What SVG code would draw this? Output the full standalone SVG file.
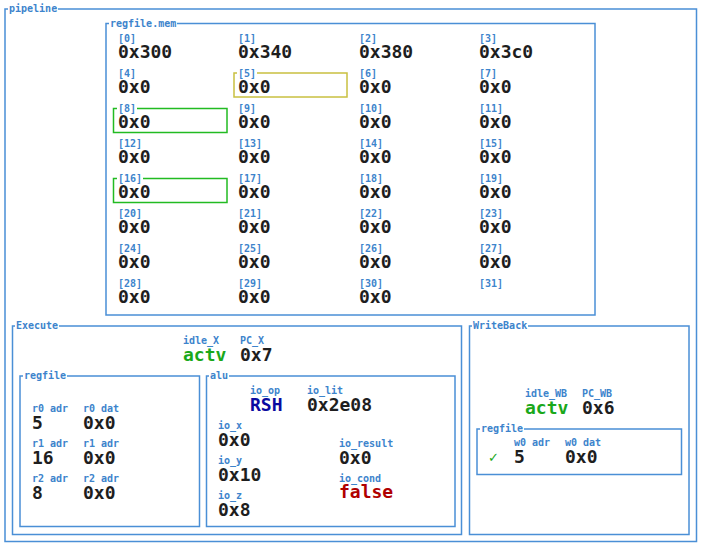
<svg xmlns="http://www.w3.org/2000/svg" width="702" height="547" viewBox="0 0 702 547">
<style>
.box{fill:none;stroke:#4a8fd6;stroke-width:1.5}
.bl{font-family:"DejaVu Sans Mono",monospace;font-size:10px;font-weight:bold;fill:#3d84cc}
.lb{fill:#fff}
.k{font-family:"DejaVu Sans Mono",monospace;font-size:10px;font-weight:bold;fill:#3d84cc}
.v{font-family:"DejaVu Sans Mono",monospace;font-size:18px;font-weight:bold;fill:#1e1e1e}
.g{fill:#1aa81a}
.b{fill:#0a0aa0}
.r{fill:#b00000}
</style>
<rect width="702" height="547" fill="#fff"/>
<g id="pipeline">
<rect class="box" x="5" y="9" width="691.5" height="532.5"/>
<rect class="lb" x="8" y="4" width="50" height="10"/>
<text class="bl" x="9" y="12">pipeline</text>
</g>
<g id="regfile_mem">
<rect class="box" x="106" y="23.5" width="489" height="291.5"/>
<rect class="lb" x="109" y="18" width="68" height="10"/>
<text class="bl" x="110" y="27">regfile.mem</text>
<rect x="234" y="73" width="113" height="24" fill="none" stroke="#c9c040" stroke-width="1.5"/>
<rect x="113.5" y="108.5" width="113.5" height="24" fill="none" stroke="#22bb22" stroke-width="1.5"/>
<rect x="113.5" y="178.5" width="113.5" height="24" fill="none" stroke="#22bb22" stroke-width="1.5"/>
<rect class="lb" x="237" y="68" width="20" height="10"/>
<rect class="lb" x="117" y="103" width="20" height="10"/>
<rect class="lb" x="117" y="173" width="26" height="10"/>
<g class="k">
<text x="118" y="42">[0]</text><text x="238" y="42">[1]</text><text x="359" y="42">[2]</text><text x="479" y="42">[3]</text>
<text x="118" y="77">[4]</text><text x="238" y="77">[5]</text><text x="359" y="77">[6]</text><text x="479" y="77">[7]</text>
<text x="118" y="112">[8]</text><text x="238" y="112">[9]</text><text x="359" y="112">[10]</text><text x="479" y="112">[11]</text>
<text x="118" y="147">[12]</text><text x="238" y="147">[13]</text><text x="359" y="147">[14]</text><text x="479" y="147">[15]</text>
<text x="118" y="182">[16]</text><text x="238" y="182">[17]</text><text x="359" y="182">[18]</text><text x="479" y="182">[19]</text>
<text x="118" y="217">[20]</text><text x="238" y="217">[21]</text><text x="359" y="217">[22]</text><text x="479" y="217">[23]</text>
<text x="118" y="252">[24]</text><text x="238" y="252">[25]</text><text x="359" y="252">[26]</text><text x="479" y="252">[27]</text>
<text x="118" y="287">[28]</text><text x="238" y="287">[29]</text><text x="359" y="287">[30]</text><text x="479" y="287">[31]</text>
</g>
<g class="v">
<text x="118" y="58">0x300</text><text x="238" y="58">0x340</text><text x="359" y="58">0x380</text><text x="479" y="58">0x3c0</text>
<text x="118" y="93">0x0</text><text x="238" y="93">0x0</text><text x="359" y="93">0x0</text><text x="479" y="93">0x0</text>
<text x="118" y="128">0x0</text><text x="238" y="128">0x0</text><text x="359" y="128">0x0</text><text x="479" y="128">0x0</text>
<text x="118" y="163">0x0</text><text x="238" y="163">0x0</text><text x="359" y="163">0x0</text><text x="479" y="163">0x0</text>
<text x="118" y="198">0x0</text><text x="238" y="198">0x0</text><text x="359" y="198">0x0</text><text x="479" y="198">0x0</text>
<text x="118" y="233">0x0</text><text x="238" y="233">0x0</text><text x="359" y="233">0x0</text><text x="479" y="233">0x0</text>
<text x="118" y="268">0x0</text><text x="238" y="268">0x0</text><text x="359" y="268">0x0</text><text x="479" y="268">0x0</text>
<text x="118" y="303">0x0</text><text x="238" y="303">0x0</text><text x="359" y="303">0x0</text>
</g>
</g>
<g id="execute">
<rect class="box" x="12.5" y="326" width="449" height="208.5"/>
<rect class="lb" x="15" y="321" width="44" height="10"/>
<text class="bl" x="16" y="329">Execute</text>
<text class="k" x="183" y="344">idle_X</text>
<text class="v g" x="183" y="361">actv</text>
<text class="k" x="240" y="344">PC_X</text>
<text class="v" x="240" y="361">0x7</text>
</g>
<g id="execute_regfile">
<rect class="box" x="20" y="376" width="179.5" height="150.5"/>
<rect class="lb" x="23" y="371" width="44" height="10"/>
<text class="bl" x="24" y="379">regfile</text>
<text class="k" x="32" y="412">r0 adr</text><text class="v" x="32" y="428.5">5</text>
<text class="k" x="83" y="412">r0 dat</text><text class="v" x="83" y="428.5">0x0</text>
<text class="k" x="32" y="447">r1 adr</text><text class="v" x="32" y="463.5">16</text>
<text class="k" x="83" y="447">r1 adr</text><text class="v" x="83" y="463.5">0x0</text>
<text class="k" x="32" y="482">r2 adr</text><text class="v" x="32" y="498.5">8</text>
<text class="k" x="83" y="482">r2 adr</text><text class="v" x="83" y="498.5">0x0</text>
</g>
<g id="alu">
<rect class="box" x="206.5" y="376" width="248.5" height="150.5"/>
<rect class="lb" x="209" y="371" width="20" height="10"/>
<text class="bl" x="210" y="379">alu</text>
<text class="k" x="250" y="394">io_op</text><text class="v b" x="250" y="411">RSH</text>
<text class="k" x="307" y="394">io_lit</text><text class="v" x="307" y="411">0x2e08</text>
<text class="k" x="218" y="429">io_x</text><text class="v" x="218" y="446">0x0</text>
<text class="k" x="218" y="464">io_y</text><text class="v" x="218" y="481">0x10</text>
<text class="k" x="218" y="499">io_z</text><text class="v" x="218" y="515.5">0x8</text>
<text class="k" x="339" y="447">io_result</text><text class="v" x="339" y="463.5">0x0</text>
<text class="k" x="339" y="482">io_cond</text><text class="v r" x="339" y="498">false</text>
</g>
<g id="writeback">
<rect class="box" x="469.5" y="326" width="219.5" height="208.5"/>
<rect class="lb" x="472" y="321" width="56" height="10"/>
<text class="bl" x="473" y="329">WriteBack</text>
<text class="k" x="525" y="397">idle_WB</text>
<text class="v g" x="525" y="413.5">actv</text>
<text class="k" x="582" y="397">PC_WB</text>
<text class="v" x="582" y="413.5">0x6</text>
</g>
<g id="writeback_regfile">
<rect class="box" x="477" y="429" width="204.5" height="45.5"/>
<rect class="lb" x="480" y="424" width="44" height="10"/>
<text class="bl" x="481" y="432">regfile</text>
<text x="488" y="462" font-family="DejaVu Sans,sans-serif" font-size="13" fill="#1aa81a">✓</text>
<text class="k" x="514" y="446">w0 adr</text><text class="v" x="514" y="463">5</text>
<text class="k" x="565" y="446">w0 dat</text><text class="v" x="565" y="463">0x0</text>
</g>
<g id="connectors"/>
</svg>
